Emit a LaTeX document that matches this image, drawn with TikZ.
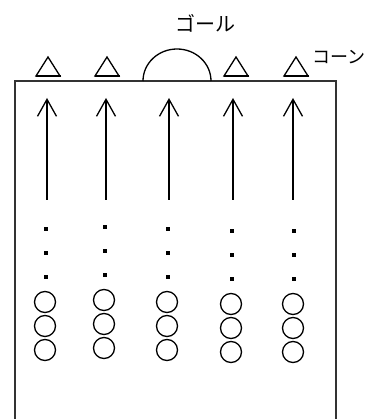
\documentclass[tikz,border=0pt]{standalone}
\usepackage{fontspec}
\usetikzlibrary{arrows.meta}
\newfontfamily\jpfont{Noto Sans CJK JP}
\begin{document}
\begin{tikzpicture}[x=1pt,y=-1pt,
  field/.style={line width=1.8pt, draw=black!80},
  runarrow/.style={line width=1.3pt, -{Straight Barb[length=17pt,width=19pt,line width=1.3pt]}},
  cone/.style={line width=1.3pt},
  player/.style={circle, draw, line width=1.3pt, minimum size=21pt, inner sep=0pt},
  dotmark/.style={rectangle, fill, minimum size=3.6pt, inner sep=0pt},
  label/.style={font=\jpfont\fontsize{20}{20}\selectfont, inner sep=0pt}
]
\useasboundingbox (0,0) rectangle (367,419);
% field outline (open at the bottom)
\coordinate (fbl) at (15,422);
\coordinate (ftl) at (15,81);
\coordinate (ftr) at (336,81);
\coordinate (fbr) at (336,422);
\draw[field] (fbl) -- (ftl) -- (ftr) -- (fbr);
% goal
\draw[line width=1.3pt] (143,81) arc[start angle=180, end angle=360, x radius=34, y radius=32];
\node[label] (goal) at (205,23) {ゴール};
\node[label, font=\jpfont\fontsize{18}{18}\selectfont, anchor=east] (conelbl) at (366,57) {コーン};
% cones
\foreach \cx/\n in {48/c1,107/c2,236/c3,296/c4}{
  \draw[cone] (\cx-12,76) -- (\cx,57) -- (\cx+12,76) -- cycle;
  \draw[line width=2pt] (\cx-12.5,76) -- (\cx+12.5,76);
}
% arrows
\foreach \ax/\n in {47/a1,106/a2,169/a3,233/a4,293/a5}{
  \coordinate (\n s) at (\ax,200);
  \coordinate (\n e) at (\ax,98);
  \draw[runarrow] (\n s) -- (\n e);
}
% dots and players
\foreach \px/\dy/\n in {46/229/p1,105/227/p2,168/229/p3,232/231/p4,294/231/p5}{
  \node[dotmark] (\n d1) at (\px,\dy) {};
  \node[dotmark] (\n d2) at (\px,\dy+24) {};
  \node[dotmark] (\n d3) at (\px,\dy+48) {};
  \node[player] (\n c1) at (\px-1,\dy+73) {};
  \node[player] (\n c2) at (\px-1,\dy+97) {};
  \node[player] (\n c3) at (\px-1,\dy+121) {};
}
\end{tikzpicture}
\end{document}
